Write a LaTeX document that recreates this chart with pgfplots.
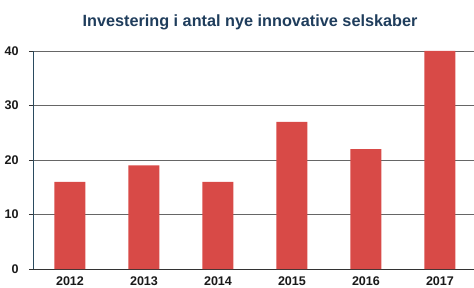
\documentclass[border=0pt]{standalone}
\usepackage{pgfplots}
\pgfplotsset{compat=1.18}
\usepackage{fontspec}
\setmainfont{Liberation Sans}
\definecolor{barred}{HTML}{D84A47}
\definecolor{titleblue}{HTML}{1F3D5C}
\definecolor{axisblue}{HTML}{2A4A5E}
\begin{document}
\begin{tikzpicture}
\useasboundingbox (0,0) rectangle (474bp,288bp);
\node[font=\bfseries\fontsize{16.3}{18}\selectfont, text=titleblue] at (250bp,266bp) {Investering i antal nye innovative selskaber};
\begin{axis}[
  at={(33bp,19bp)}, anchor=south west,
  scale only axis,
  width=441bp, height=218bp,
  xmin=-0.5, xmax=5.46,
  ymin=0, ymax=40,
  axis x line=bottom, axis y line=left,
  axis line style={-, line width=0.9pt},
  x axis line style={color=black!80},
  y axis line style={color=axisblue},
  ytick={0,10,20,30,40},
  ymajorgrids,
  major grid style={color=black!60, line width=0.6pt},
  xtick={0,1,2,3,4,5},
  xticklabels={2012,2013,2014,2015,2016,2017},
  major x tick style={draw=none},
  extra x ticks={0.5,1.5,2.5,3.5,4.5},
  extra x tick labels={},
  extra x tick style={major tick length=4bp, tick style={draw=black!80, line width=0.7pt}, grid=none, tick align=outside},
  tick align=outside,
  major tick length=4bp,
  ytick style={draw=black!80, line width=0.7pt},
  tick label style={font=\bfseries\fontsize{12.6}{14}\selectfont, text=black!90},
  xticklabel style={yshift=-0.5bp},
  yticklabel style={xshift=-6.8bp},
  /pgf/number format/assume math mode=true,
  clip=false,
]
\addplot[ybar, bar width=31bp, fill=barred, draw=none, bar shift=0pt] coordinates {
  (0,16) (1,19) (2,16) (3,27) (4,22) (5,40)
};
\end{axis}
\end{tikzpicture}
\end{document}
